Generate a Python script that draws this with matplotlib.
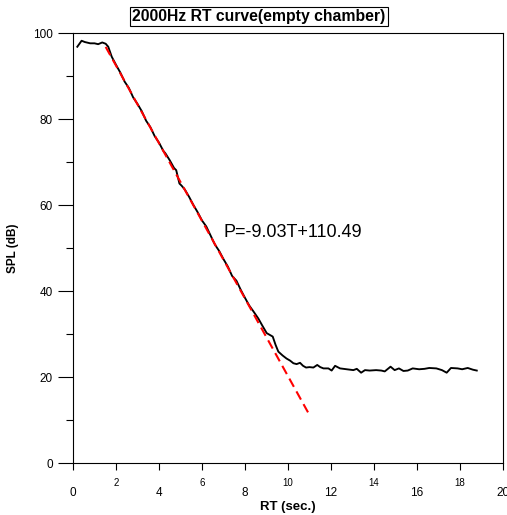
import matplotlib
matplotlib.use("Agg")
import matplotlib.pyplot as plt
import numpy as np

plt.rcParams['font.family'] = ['Liberation Sans', 'DejaVu Sans']

# measured decay curve
t_vals = [0.2, 0.4, 0.55, 0.8, 1.0, 1.17, 1.36, 1.52, 1.64, 1.8, 2.0, 2.2, 2.4, 2.6, 2.8, 3.0,
          3.2, 3.4, 3.6, 3.8, 4.0, 4.2, 4.3, 4.5, 4.7, 4.8, 4.95, 5.05, 5.2, 5.4, 5.6,
          5.8, 6.0, 6.2, 6.4, 6.6, 6.8, 7.0, 7.2, 7.4, 7.6, 7.8, 8.0, 8.2, 8.4, 8.62,
          8.8, 9.01, 9.15, 9.29, 9.42, 9.55, 9.75, 9.93, 10.1, 10.25, 10.4, 10.56,
          10.7, 10.84, 11.0, 11.18, 11.36, 11.5, 11.65, 11.88, 12.03, 12.19, 12.42,
          12.73, 13.04, 13.2, 13.4, 13.58, 13.8, 14.1, 14.34, 14.5, 14.77, 14.96,
          15.16, 15.37, 15.57, 15.8, 16.1, 16.35, 16.57, 16.9, 17.16, 17.38, 17.58,
          17.89, 18.1, 18.36, 18.6, 18.78]
spl_vals = [96.8, 98.2, 97.9, 97.6, 97.6, 97.4, 97.8, 97.5, 96.8, 94.5, 92.6, 90.8, 88.7, 87.2, 85.0, 83.5,
            81.8, 79.6, 78.1, 76.0, 74.5, 72.6, 72.0, 70.4, 68.6, 68.1, 65.0, 64.5, 63.6, 61.9, 60.0,
            58.3, 56.4, 55.0, 52.9, 50.8, 49.3, 47.4, 45.7, 43.5, 42.4, 40.3, 38.4, 36.6, 35.2, 33.6,
            32.0, 30.2, 29.8, 29.4, 27.5, 25.9, 25.0, 24.3, 23.8, 23.2, 23.0, 23.3,
            22.6, 22.2, 22.3, 22.2, 22.8, 22.3, 22.0, 22.0, 21.5, 22.6, 22.0,
            21.8, 21.6, 21.9, 21.0, 21.6, 21.5, 21.6, 21.5, 21.3, 22.4, 21.6,
            22.0, 21.4, 21.5, 22.0, 21.8, 21.9, 22.1, 22.0, 21.6, 21.0, 22.1,
            22.0, 21.8, 22.1, 21.7, 21.5]

# linear fit
fit_slope = -9.03
fit_intercept = 110.49
fit_t = [1.52, 11.02]
fit_label = "P=-9.03T+110.49"

x_major = [0, 4, 8, 12, 16, 20]
x_minor = [2, 6, 10, 14, 18]
y_major = [0, 20, 40, 60, 80, 100]
y_minor = [10, 30, 50, 70, 90]

fig = plt.figure(figsize=(5.07, 5.15), dpi=100)
ax = fig.add_axes([73/507, 1-463/515, 430/507, 430/515])

ax.plot(t_vals, spl_vals, color='black', lw=1.35, zorder=3)
ft = np.array(fit_t)
ax.plot(ft, fit_slope*ft + fit_intercept, color='#ff0000', lw=1.5,
        dashes=(4.5, 2.5), zorder=4)

ax.set_xlim(0, 20)
ax.set_ylim(0, 100)

ax.set_xticks(x_major)
ax.set_xticks(x_minor, minor=True)
ax.set_yticks(y_major)
ax.set_yticks(y_minor, minor=True)
ax.set_xticklabels([str(v) for v in x_major])
ax.set_xticklabels([str(v) for v in x_minor], minor=True)
ax.set_yticklabels([str(v) for v in y_major])

ax.tick_params(axis='x', which='major', direction='out', length=5, width=0.8,
               labelsize=8.5, pad=12)
ax.tick_params(axis='x', which='minor', direction='out', length=5, width=0.8,
               labelsize=7, pad=6)
ax.tick_params(axis='y', which='major', direction='out', length=10.5, width=0.8,
               labelsize=8.5, pad=4)
ax.tick_params(axis='y', which='minor', direction='out', length=5, width=0.8)

for s in ax.spines.values():
    s.set_linewidth(0.8)

ax.set_xlabel("RT (sec.)", fontsize=9.5, fontweight='bold', labelpad=2)
ax.set_ylabel("SPL (dB)", fontsize=8.5, fontweight='bold', labelpad=10)

ax.text(6.98, 53.7, fit_label, fontsize=13, ha='left', va='center')

fig.text(259/507, 1-16.5/515, "2000Hz RT curve(empty chamber)", fontsize=11.3,
         fontweight='bold', ha='center', va='center',
         bbox=dict(boxstyle='square,pad=0.12', fc='white', ec='black', lw=0.8))

fig.savefig("out.png", dpi=100)
